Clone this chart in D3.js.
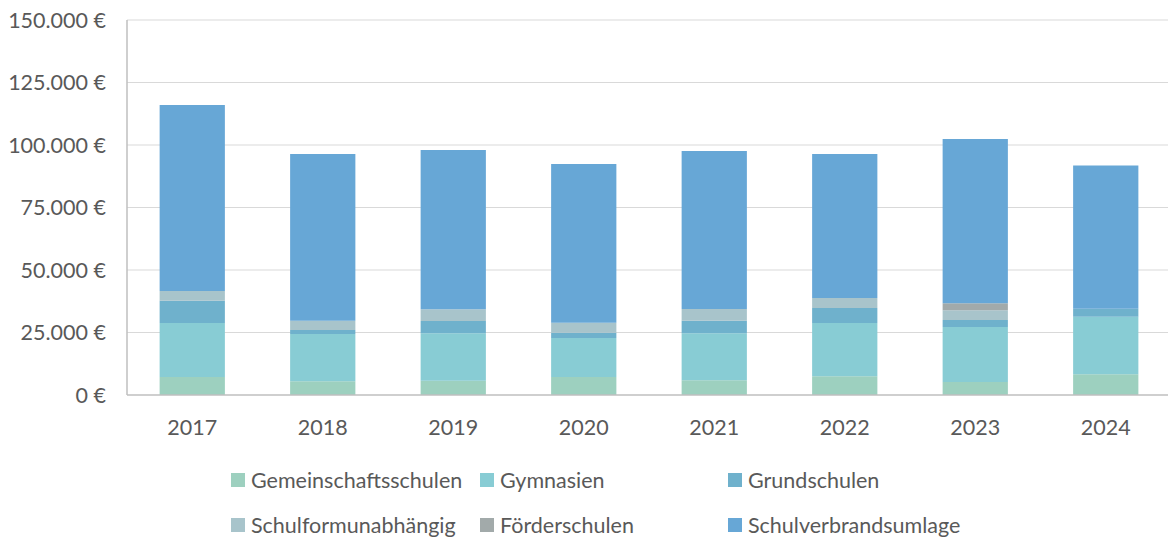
<!DOCTYPE html>
<html>
<head>
<meta charset="utf-8">
<script src="https://cdn.jsdelivr.net/npm/d3@7"></script>
<style>
  body { margin: 0; background: #fff; }
  svg text { font-family: Lato, "Open Sans", sans-serif; fill: #595959; }
</style>
</head>
<body>
<div id="chart"></div>
<script>
const years = ["2017", "2018", "2019", "2020", "2021", "2022", "2023", "2024"];
const seriesNames = ["Gemeinschaftsschulen", "Gymnasien", "Grundschulen", "Schulformunabhängig", "Förderschulen", "Schulverbrandsumlage"];
const gemeinschaftsschulen = [7200, 5500, 5700, 7200, 5900, 7500, 5200, 8300];
const gymnasien = [21600, 18900, 19000, 15600, 18800, 21300, 22000, 23000];
const grundschulen = [8900, 1600, 4900, 2100, 5000, 6000, 2800, 3200];
const schulformunabhaengig = [3900, 3700, 4700, 4000, 4700, 4000, 3900, 0];
const foerderschulen = [0, 0, 0, 0, 0, 0, 2800, 0];
const schulverbandsumlage = [74400, 66700, 63700, 63500, 63200, 57600, 65700, 57300];
const yTicks = [0, 25000, 50000, 75000, 100000, 125000, 150000];
const colors = ["#9dd0bf", "#88ccd4", "#6fb1cc", "#a8c4cb", "#a2aaaa", "#67a7d6"];

const values = [gemeinschaftsschulen, gymnasien, grundschulen, schulformunabhaengig, foerderschulen, schulverbandsumlage];
const table = years.map((y, i) => {
  const row = { year: y };
  seriesNames.forEach((s, j) => row[s] = values[j][i]);
  return row;
});

const width = 1168, height = 537;
const margin = { top: 20, left: 127, right: -3, bottom: 142 };
const svg = d3.select("#chart").append("svg").attr("width", width).attr("height", height);

const x = d3.scaleBand().domain(years).range([margin.left, width - margin.right]).paddingInner(0.5).paddingOuter(0.25);
const y = d3.scaleLinear().domain([0, 150000]).range([height - margin.bottom, margin.top]);

const de = d3.formatLocale({ decimal: ",", thousands: ".", grouping: [3], currency: ["", " €"] });
const fmt = de.format(",.0f");
const fs = 21.5;

// gridlines
svg.append("g").selectAll("line").data(yTicks.slice(1)).join("line")
  .attr("x1", margin.left).attr("x2", width)
  .attr("y1", d => y(d)).attr("y2", d => y(d))
  .attr("stroke", "#d9d9d9").attr("stroke-width", 1);

// y labels
svg.append("g").selectAll("text").data(yTicks).join("text")
  .attr("x", 106).attr("y", d => y(d)).attr("dy", "0.35em")
  .attr("text-anchor", "end").attr("font-size", fs)
  .text(d => fmt(d) + " €");

// bars
const stack = d3.stack().keys(seriesNames)(table);
svg.append("g").selectAll("g").data(stack).join("g")
  .attr("fill", (d, i) => colors[i])
  .selectAll("rect").data(d => d).join("rect")
  .attr("x", d => x(d.data.year))
  .attr("width", x.bandwidth())
  .attr("y", d => y(d[1]))
  .attr("height", d => y(d[0]) - y(d[1]));

// axes lines
svg.append("line").attr("x1", margin.left).attr("x2", margin.left)
  .attr("y1", y(150000)).attr("y2", y(0)).attr("stroke", "#bfbfbf").attr("stroke-width", 1.5);
svg.append("line").attr("x1", margin.left).attr("x2", width)
  .attr("y1", y(0)).attr("y2", y(0)).attr("stroke", "#bfbfbf").attr("stroke-width", 1.5);

// x labels
svg.append("g").selectAll("text").data(years).join("text")
  .attr("x", d => x(d) + x.bandwidth() / 2).attr("y", 427).attr("dy", "0.35em")
  .attr("text-anchor", "middle").attr("font-size", fs)
  .text(d => d);

// legend
const legendPos = [[231, 480], [480, 480], [728, 480], [231, 525], [480, 525], [728, 525]];
const legend = svg.append("g").selectAll("g").data(seriesNames).join("g")
  .attr("transform", (d, i) => `translate(${legendPos[i][0]},${legendPos[i][1]})`);
legend.append("rect").attr("x", 0).attr("y", -7).attr("width", 14).attr("height", 14)
  .attr("fill", (d, i) => colors[i]);
legend.append("text").attr("x", 20).attr("dy", "0.35em").attr("font-size", fs).text(d => d);
</script>
</body>
</html>
